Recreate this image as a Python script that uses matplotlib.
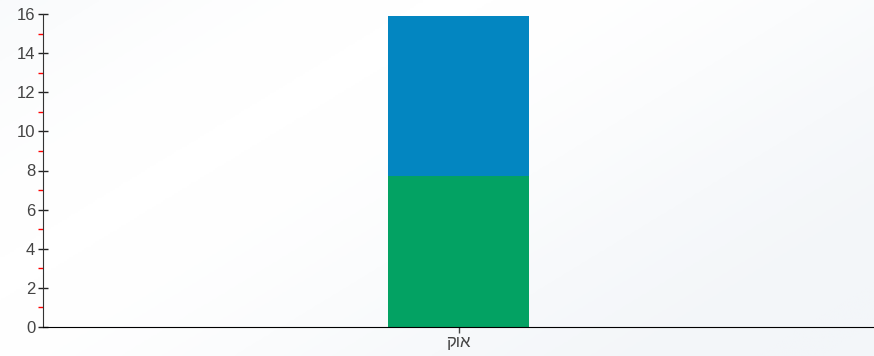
import matplotlib
matplotlib.use("Agg")
import matplotlib.pyplot as plt
import numpy as np
from matplotlib.ticker import MultipleLocator

plt.rcParams['font.family'] = ['Liberation Sans', 'DejaVu Sans']

categories = ["אוק"]
green_values = [7.7]
blue_values = [8.2]

fig = plt.figure(figsize=(8.74, 3.56), dpi=100)

# soft light background
bg = fig.add_axes([0, 0, 1, 1], zorder=-1)
yy, xx = np.mgrid[0:1:200j, 0:1:400j]
shade = 0.5 + 0.5 * np.sin(3.0 * xx + 2.0 * yy)
bg.imshow(shade, cmap=matplotlib.colors.LinearSegmentedColormap.from_list(
    "bg", ["#f3f6f9", "#ffffff"]), aspect="auto", extent=[0, 1, 0, 1])
bg.axis("off")

ax = fig.add_axes([43 / 874, 1 - 327 / 356, 1 - 43 / 874, (327 - 14) / 356])
ax.patch.set_alpha(0)

x = np.arange(len(categories))
ax.bar(x, green_values, width=0.17, color="#03a263")
ax.bar(x, blue_values, width=0.17, bottom=green_values, color="#0386c1")

ax.set_xlim(-0.5, 0.5)
ax.set_ylim(0, 16)
ax.set_xticks(x)
ax.set_xticklabels([c[::-1] for c in categories])
ax.yaxis.set_major_locator(MultipleLocator(2))
ax.yaxis.set_minor_locator(MultipleLocator(1))

for s in ["top", "right"]:
    ax.spines[s].set_visible(False)
ax.spines["left"].set_color("#333333")
ax.spines["bottom"].set_color("#000000")

ax.tick_params(axis="y", which="major", direction="inout", length=7, width=1,
               color="#222222", labelsize=12, labelcolor="#444444", pad=2)
ax.tick_params(axis="y", which="minor", direction="out", length=3.5, width=1,
               color="red")
ax.tick_params(axis="x", which="major", direction="out", length=4, width=1,
               color="#444444", labelsize=12, labelcolor="#444444", pad=2)

fig.savefig("out.png", dpi=100)
